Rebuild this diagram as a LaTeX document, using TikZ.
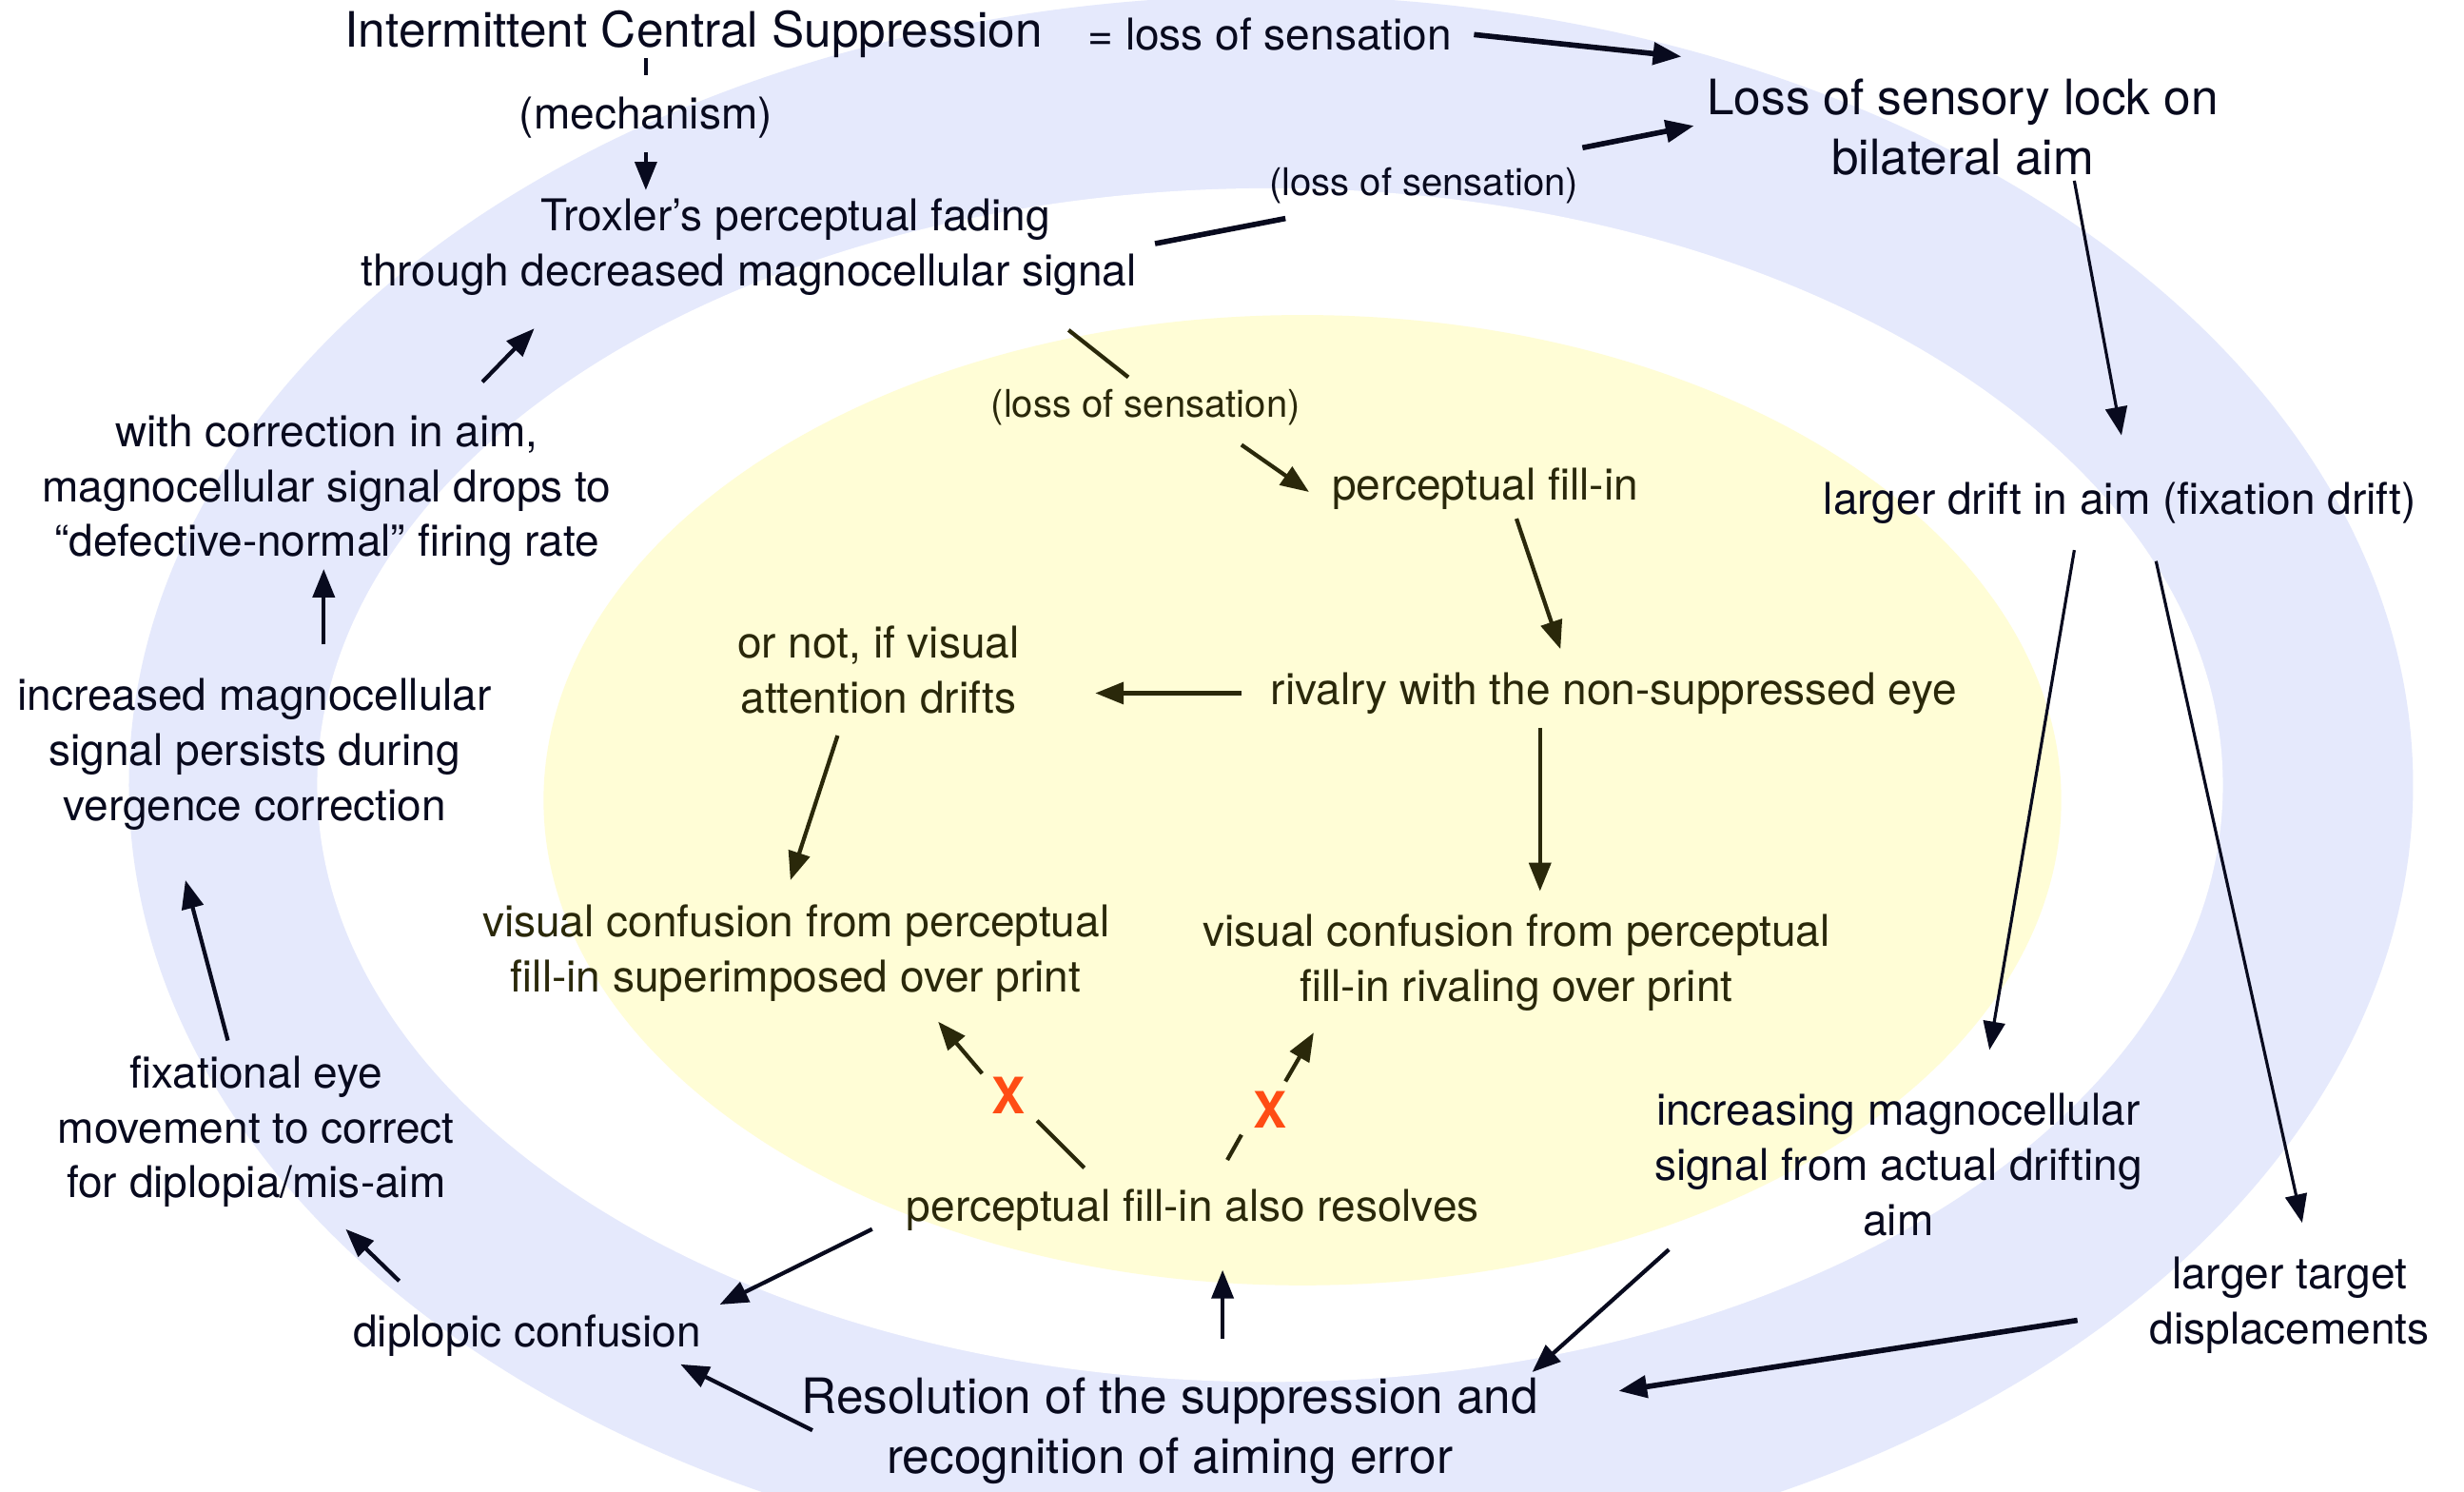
\documentclass[tikz,border=0pt]{standalone}
\usepackage{fontspec}
\setmainfont{TeX Gyre Heros}
\usetikzlibrary{arrows.meta,calc}
\definecolor{ringblue}{RGB}{229,233,252}
\definecolor{coreyellow}{RGB}{255,253,214}
\definecolor{navytext}{RGB}{8,10,30}
\definecolor{olivetext}{RGB}{42,40,10}
\definecolor{xred}{RGB}{255,76,20}
\begin{document}
\begin{tikzpicture}[x=0.016518cm,y=-0.016518cm,
  txt/.style={inner sep=0pt, align=center, text=navytext},
  bigt/.style={txt, font=\fontsize{14.6pt}{18.1pt}\selectfont},
  medt/.style={txt, font=\fontsize{13.1pt}{16.45pt}\selectfont},
  smlt/.style={txt, font=\fontsize{11.4pt}{14pt}\selectfont},
  inr/.style={text=olivetext},
  xmark/.style={inner sep=0pt, text=xred, font=\fontsize{15pt}{18pt}\selectfont\bfseries},
  ln/.style={draw=navytext, line width=1.2pt},
  arr/.style={ln, -{Triangle[length=8.5pt,width=6.5pt]}},
  thk/.style={line width=1.6pt},
  thn/.style={line width=0.9pt},
  iln/.style={draw=olivetext, line width=1.2pt},
  iarr/.style={iln, -{Triangle[length=8.5pt,width=6.5pt]}}
]
\useasboundingbox (0,0) rectangle (1568,949);
\fill[white] (0,0) rectangle (1568,949);
\begin{scope}
\clip (0,0) rectangle (1568,949);
\fill[ringblue] (808.8,499.5) ellipse [x radius=12.010cm, y radius=8.300cm];
\fill[white] (808.2,499.5) ellipse [x radius=10.020cm, y radius=6.275cm];
\fill[coreyellow] (828.8,509.1) ellipse [x radius=7.980cm, y radius=5.101cm];
\end{scope}

% outer ring texts
\node[bigt] (ICS) at (441.5,22) {Intermittent Central Suppression};
\node[medt] (eqloss) at (808,22) {= loss of sensation};
\node[medt] (mech) at (411,75) {(mechanism)};
\node[medt] (trox) at (476.5,157) {\hspace*{28pt}Troxler’s perceptual fading\\through decreased magnocellular signal};
\node[smlt] (lossTop) at (906,118) {(loss of sensation)};
\node[bigt] (lock) at (1249,81) {Loss of sensory lock on\\bilateral aim};
\node[medt] (drift) at (1349,320) {larger drift in aim (fixation drift)};
\node[medt] (withcorr) at (208,312) {with correction in aim,\\magnocellular signal drops to\\“defective-normal” firing rate};
\node[medt] (incr) at (162,480) {increased magnocellular\\signal persists during\\vergence correction};
\node[medt] (fix) at (163,720) {fixational eye\\movement to correct\\for diplopia/mis-aim};
\node[medt] (dipl) at (335.5,850) {diplopic confusion};
\node[bigt] (resol) at (744.5,910.5) {Resolution of the suppression and\\recognition of aiming error};
\node[medt] (target) at (1457,830.5) {larger target\\displacements};
\node[medt] (incmag) at (1208,741) {increasing magnocellular\\signal from actual drifting\\aim};

% inner texts
\node[smlt,inr] (lossIn) at (729,259) {(loss of sensation)};
\node[medt,inr] (pfill) at (945,311) {perceptual fill-in};
\node[medt,inr] (rival) at (1027,441) {rivalry with the non-suppressed eye};
\node[medt,inr] (ornot) at (559,426) {or not, if visual\\attention drifts};
\node[medt,inr] (vcsup) at (506.5,606.5) {visual confusion from perceptual\\fill-in superimposed over print};
\node[medt,inr] (vcriv) at (965,612.5) {visual confusion from perceptual\\fill-in rivaling over print};
\node[medt,inr] (resolves) at (759,770) {perceptual fill-in also resolves};
\node[xmark] (X1) at (642,697) {X};
\node[xmark] (X2) at (808,706) {X};

% outer connectors
\draw[ln] ($(ICS)+(-30.5,15)$) -- ($(mech)+(0,-27)$);
\draw[arr] ($(mech)+(0,22)$) -- ($(trox)+(-65.5,-36)$);
\draw[arr,thk] ($(eqloss)+(130,0)$) -- ($(lock)+(-179,-45)$);
\draw[ln,thk] ($(trox)+(258.5,-2)$) -- ($(lossTop)+(-88,21)$);
\draw[arr,thk] ($(lossTop)+(101,-24)$) -- ($(lock)+(-171,-1)$);
\draw[arr,thn] ($(lock)+(71,34)$) -- ($(drift)+(1,-43)$);
\draw[arr,thn] ($(drift)+(-29,30)$) -- ($(incmag)+(58,-73)$);
\draw[arr,thn] ($(drift)+(23,37)$) -- ($(target)+(8,-52.5)$);
\draw[arr,thk] ($(target)+(-135,9.5)$) -- ($(resol)+(285.5,-25.5)$);
\draw[arr] ($(incmag)+(-146,54)$) -- ($(resol)+(230.5,-37.5)$);
\draw[arr] ($(resol)+(33.5,-58.5)$) -- ($(resolves)+(19,38)$);
\draw[arr] ($(resol)+(-227.5,-0.5)$) -- ($(dipl)+(97.5,18)$);
\draw[arr] ($(resolves)+(-204,12)$) -- ($(dipl)+(122.5,-20)$);
\draw[arr] ($(dipl)+(-81.5,-35)$) -- ($(fix)+(57,62)$);
\draw[arr] ($(fix)+(-18,-58)$) -- ($(incr)+(-44,80)$);
\draw[arr] ($(incr)+(44,-70)$) -- ($(withcorr)+(-2,50)$);
\draw[arr] ($(withcorr)+(99,-69)$) -- ($(trox)+(-136.5,52)$);

% inner connectors
\draw[iln] ($(trox)+(203.5,53)$) -- ($(lossIn)+(-11,-19)$);
\draw[iarr] ($(lossIn)+(61,24)$) -- ($(pfill)+(-112,2)$);
\draw[iarr] ($(pfill)+(20,19)$) -- ($(rival)+(-34,-28)$);
\draw[iarr] ($(rival)+(-237,0)$) -- ($(ornot)+(138,15)$);
\draw[iarr] ($(ornot)+(-26,42)$) -- ($(vcsup)+(-3.5,-46.5)$);
\draw[iarr] ($(rival)+(-47,22)$) -- ($(vcriv)+(15,-45.5)$);
\draw[iln] ($(resolves)+(-69,-27)$) -- ($(X1)+(18,16)$);
\draw[iarr] ($(X1)+(-17,-14)$) -- ($(vcsup)+(90.5,43.5)$);
\draw[iln] ($(resolves)+(22,-32)$) -- ($(X2)+(-18,16)$);
\draw[iarr] ($(X2)+(10,-18)$) -- ($(vcriv)+(-129,44.5)$);
\end{tikzpicture}
\end{document}
